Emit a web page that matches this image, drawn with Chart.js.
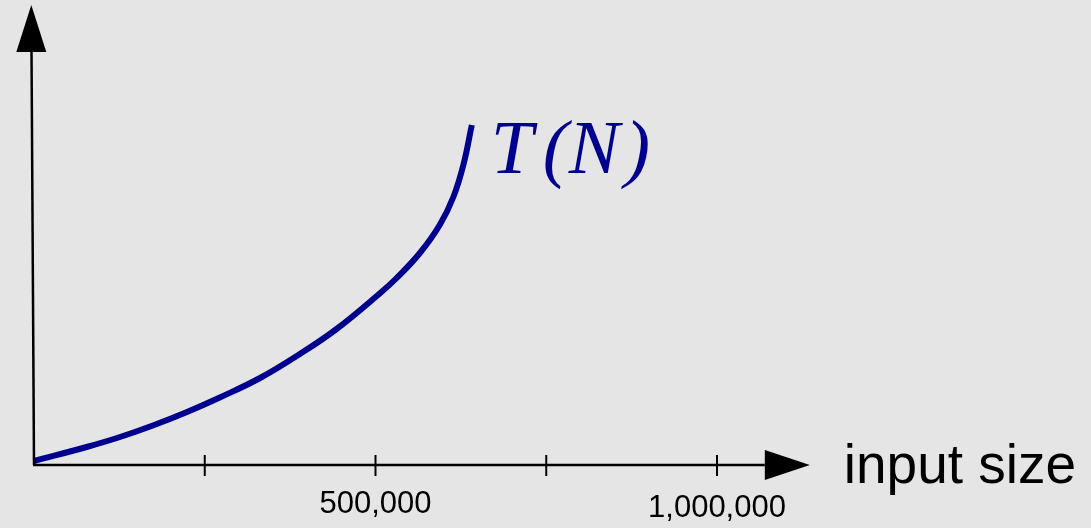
<!DOCTYPE html>
<html>
<head>
<meta charset="utf-8">
<script src="https://cdn.jsdelivr.net/npm/chart.js@4"></script>
<style>
  html, body { margin: 0; padding: 0; background: #e5e5e5; }
  canvas { display: block; }
</style>
</head>
<body>
<canvas id="chart" width="1091" height="528"></canvas>
<script>
// running time T(N) against input size N
const inputSizes = [0, 77000, 126000, 174000, 224000, 272000, 331000, 387000, 443000, 507000, 531000, 565000, 594000, 614000, 629000, 641000];
const runTimes = [4, 18, 28, 39.5, 53, 67.5, 87, 110, 136, 172, 187, 212, 240, 268, 301, 340];
const tickValues = [250000, 500000, 750000, 1000000];
const tickLabels = ["", "500,000", "", "1,000,000"];
const xTitle = "input size";
const seriesLabel = ["T", "(", "N", ")"];

const navy = "#00008f";

// axes with arrow heads, crossing ticks and the curve label
const axesPlugin = {
    id: "arrowAxes",
    afterDatasetsDraw(chart) {
        const { ctx, chartArea, scales } = chart;
        const x0 = chartArea.left;
        const y0 = chartArea.bottom;
        const xEnd = scales.x.getPixelForValue(1070000);
        ctx.save();
        ctx.strokeStyle = "#000";
        ctx.fillStyle = "#000";
        ctx.lineWidth = 2.5;

        // vertical axis
        ctx.beginPath();
        ctx.moveTo(x0, y0);
        ctx.lineTo(x0 - 2.5, chartArea.top + 45);
        ctx.stroke();
        ctx.beginPath();
        ctx.moveTo(x0 - 2.7, chartArea.top);
        ctx.lineTo(x0 - 17.7, chartArea.top + 47);
        ctx.lineTo(x0 + 12.3, chartArea.top + 47);
        ctx.closePath();
        ctx.fill();

        // horizontal axis
        ctx.beginPath();
        ctx.moveTo(x0 - 1, y0);
        ctx.lineTo(xEnd, y0);
        ctx.stroke();
        ctx.beginPath();
        ctx.moveTo(xEnd + 45, y0);
        ctx.lineTo(xEnd, y0 - 15);
        ctx.lineTo(xEnd, y0 + 15);
        ctx.closePath();
        ctx.fill();

        // ticks and labels
        ctx.lineWidth = 2;
        ctx.font = "31px 'Liberation Sans', Arial, sans-serif";
        ctx.textAlign = "center";
        ctx.textBaseline = "alphabetic";
        tickValues.forEach((v, i) => {
            const px = scales.x.getPixelForValue(v);
            ctx.beginPath();
            ctx.moveTo(px, y0 - 10);
            ctx.lineTo(px, y0 + 11);
            ctx.stroke();
            if (tickLabels[i]) {
                ctx.fillText(tickLabels[i], px, y0 + (v >= 1000000 ? 52 : 48));
            }
        });

        ctx.textAlign = "left";
        ctx.font = "55px 'Liberation Sans', Arial, sans-serif";
        ctx.fillText(xTitle, xEnd + 79, y0 + 18);

        // T(N) next to the end of the curve
        const last = inputSizes.length - 1;
        const ex = scales.x.getPixelForValue(inputSizes[last]);
        const ey = scales.y.getPixelForValue(runTimes[last]);
        ctx.fillStyle = navy;
        ctx.font = "italic 76px 'Liberation Serif', 'Times New Roman', serif";
        const offsets = [19, 71, 97, 153];
        seriesLabel.forEach((ch, i) => {
            ctx.fillText(ch, ex + offsets[i], ey + 48);
        });
        ctx.restore();
    }
};

new Chart(document.getElementById("chart"), {
    type: "scatter",
    data: {
        datasets: [{
            label: "T(N)",
            data: inputSizes.map((n, i) => ({ x: n, y: runTimes[i] })),
            showLine: true,
            borderColor: navy,
            borderWidth: 6,
            borderCapStyle: "butt",
            borderJoinStyle: "round",
            pointRadius: 0,
            tension: 0.4,
            clip: 10
        }]
    },
    options: {
        responsive: false,
        devicePixelRatio: 1,
        animation: false,
        layout: { padding: { left: 34, right: 32.5, top: 5, bottom: 63 } },
        scales: {
            x: { type: "linear", min: 0, max: 1500000, display: false },
            y: { type: "linear", min: 0, max: 460, display: false }
        },
        plugins: {
            legend: { display: false },
            tooltip: { enabled: false }
        }
    },
    plugins: [axesPlugin]
});
</script>
</body>
</html>
